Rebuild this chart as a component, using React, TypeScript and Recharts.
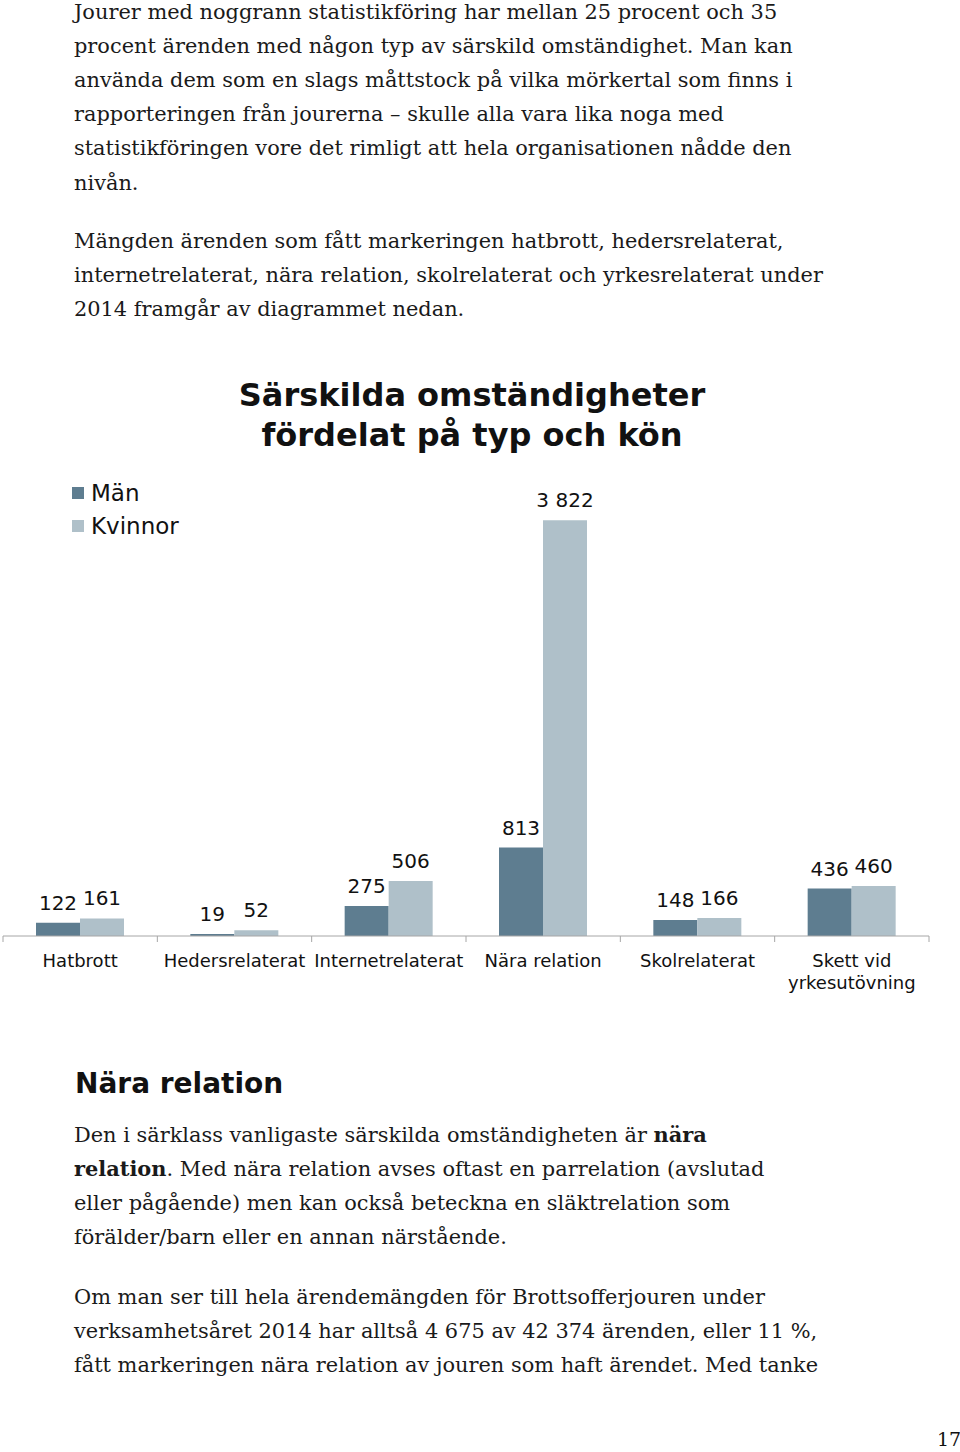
import React from "react";
import { BarChart, Bar, XAxis, YAxis, Legend, LabelList, Text } from "recharts";

const categories = [
  "Hatbrott",
  "Hedersrelaterat",
  "Internetrelaterat",
  "Nära relation",
  "Skolrelaterat",
  "Skett vid yrkesutövning",
];
const man = [122, 19, 275, 813, 148, 436];
const kvinnor = [161, 52, 506, 3822, 166, 460];
const seriesNames = ["Män", "Kvinnor"];

const data = categories.map((name, i) => ({ name, man: man[i], kvinnor: kvinnor[i] }));

const para1 = [
  "Jourer med noggrann statistikföring har mellan 25 procent och 35",
  "procent ärenden med någon typ av särskild omständighet. Man kan",
  "använda dem som en slags måttstock på vilka mörkertal som finns i",
  "rapporteringen från jourerna – skulle alla vara lika noga med",
  "statistikföringen vore det rimligt att hela organisationen nådde den",
  "nivån.",
];
const para2 = [
  "Mängden ärenden som fått markeringen hatbrott, hedersrelaterat,",
  "internetrelaterat, nära relation, skolrelaterat och yrkesrelaterat under",
  "2014 framgår av diagrammet nedan.",
];
const para4 = [
  "Om man ser till hela ärendemängden för Brottsofferjouren under",
  "verksamhetsåret 2014 har alltså 4 675 av 42 374 ärenden, eller 11 %,",
  "fått markeringen nära relation av jouren som haft ärendet. Med tanke",
];

const serif = "'DejaVu Serif', Georgia, serif";
const sans = "'DejaVu Sans', Verdana, sans-serif";
const axisGrey = "#a6a6a6";

const bodyStyle: React.CSSProperties = {
  position: "absolute",
  left: 74,
  fontFamily: serif,
  fontSize: 20.9,
  lineHeight: "34px",
  color: "#1a1a1a",
  whiteSpace: "nowrap",
};

const fmt = (v: any) => String(v).replace(/\B(?=(\d{3})+(?!\d))/g, " ");

const ValueLabel = (props: any) => {
  const { x, y, width, value } = props;
  return (
    <text x={x + width / 2} y={y - 13} textAnchor="middle" fontFamily={sans} fontSize={20} fill="#111">
      {fmt(value)}
    </text>
  );
};

// tick label plus short marks at the band edges (Excel style)
const CatTick = (props: any) => {
  const { x, y, payload, index } = props;
  const half = payload.offset || 0;
  const axisY = y - 8;
  return (
    <g>
      <line x1={x - half} x2={x - half} y1={axisY} y2={axisY + 6} stroke={axisGrey} />
      {index === categories.length - 1 && (
        <line x1={x + half} x2={x + half} y1={axisY} y2={axisY + 6} stroke={axisGrey} />
      )}
      <Text
        x={x}
        y={y + 10}
        width={150}
        textAnchor="middle"
        verticalAnchor="start"
        fontFamily={sans}
        fontSize={18}
        fill="#111"
        lineHeight={22}
      >
        {payload.value}
      </Text>
    </g>
  );
};

const LegendBox = (props: any) => {
  const items = [...(props.payload || [])].sort(
    (a: any, b: any) => seriesNames.indexOf(a.value) - seriesNames.indexOf(b.value)
  );
  return (
    <div>
      {items.map((p: any) => (
        <div key={p.value} style={{ display: "flex", alignItems: "center", height: 33 }}>
          <span style={{ width: 12, height: 12, background: p.color, marginRight: 7, display: "inline-block" }} />
          <span style={{ fontFamily: sans, fontSize: 23, color: "#111" }}>{p.value}</span>
        </div>
      ))}
    </div>
  );
};

export default function App() {
  return (
    <div style={{ position: "absolute", left: 0, top: 0, width: 960, height: 1452, background: "#fff" }}>
      {para1.map((l, i) => (
        <div key={"a" + i} style={{ ...bodyStyle, top: -5 + i * 34.1 }}>{l}</div>
      ))}
      {para2.map((l, i) => (
        <div key={"b" + i} style={{ ...bodyStyle, top: 224 + i * 34 }}>{l}</div>
      ))}

      <div
        style={{
          position: "absolute",
          left: 0,
          width: 944,
          top: 375,
          textAlign: "center",
          fontFamily: sans,
          fontWeight: "bold",
          fontSize: 32,
          lineHeight: "40px",
          color: "#111",
        }}
      >
        Särskilda omständigheter
        <br />
        fördelat på typ och kön
      </div>

      <div style={{ position: "absolute", left: 0, top: 360 }}>
        <BarChart
          width={960}
          height={650}
          data={data}
          margin={{ top: 141, right: 31, left: 3, bottom: 0 }}
          barCategoryGap={33}
          barGap={0}
        >
          <XAxis
            dataKey="name"
            axisLine={{ stroke: axisGrey }}
            tickLine={false}
            interval={0}
            height={74}
            tick={<CatTick />}
          />
          <YAxis hide domain={[0, 4000]} />
          <Legend
            layout="horizontal"
            verticalAlign="middle"
            align="center"
            content={<LegendBox />}
            wrapperStyle={{ left: 72, top: 116, width: 200 }}
          />
          <Bar dataKey="man" name="Män" fill="#5e7d90" isAnimationActive={false}>
            <LabelList dataKey="man" content={<ValueLabel />} />
          </Bar>
          <Bar dataKey="kvinnor" name="Kvinnor" fill="#afc0c9" isAnimationActive={false}>
            <LabelList dataKey="kvinnor" content={<ValueLabel />} />
          </Bar>
        </BarChart>
      </div>

      <div
        style={{
          position: "absolute",
          left: 75,
          top: 1066,
          fontFamily: sans,
          fontWeight: "bold",
          fontSize: 28,
          lineHeight: "36px",
          color: "#111",
        }}
      >
        Nära relation
      </div>

      <div style={{ ...bodyStyle, top: 1118 }}>
        Den i särklass vanligaste särskilda omständigheten är <b>nära</b>
        <br />
        <b>relation</b>. Med nära relation avses oftast en parrelation (avslutad
        <br />
        eller pågående) men kan också beteckna en släktrelation som
        <br />
        förälder/barn eller en annan närstående.
      </div>

      {para4.map((l, i) => (
        <div key={"d" + i} style={{ ...bodyStyle, top: 1280 + i * 34 }}>{l}</div>
      ))}

      <div style={{ position: "absolute", left: 937, top: 1428, fontFamily: serif, fontSize: 19, color: "#111" }}>17</div>
    </div>
  );
}
